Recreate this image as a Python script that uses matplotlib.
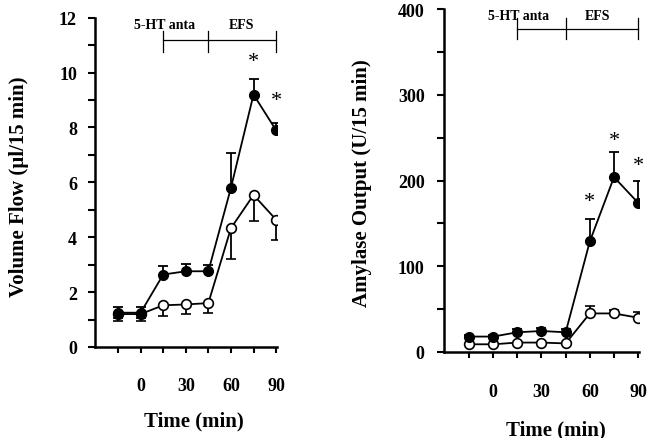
import numpy as np
import matplotlib
matplotlib.use("Agg")
import matplotlib.pyplot as plt

plt.rcParams['font.family'] = ['Liberation Serif', 'DejaVu Serif']
plt.rcParams['font.weight'] = 'bold'

# time points (min)
time = [-15, 0, 15, 30, 45, 60, 75, 90]
x_tick_labels = ['', '0', '', '30', '', '60', '', '90']

# volume flow (ul/15 min)
flow_filled = [1.25, 1.25, 2.64, 2.76, 2.76, 5.8, 9.2, 7.9]
flow_filled_err = [0.2, 0.2, 0.3, 0.28, 0.24, 1.28, 0.56, 0.25]
flow_open = [1.2, 1.2, 1.52, 1.55, 1.6, 4.33, 5.54, 4.64]
flow_open_err = [0.25, 0.25, 0.4, 0.36, 0.35, 1.13, 0.95, 0.75]
flow_stars = {75: 10.4, 90: 9.0}
flow_yticks = list(range(0, 13))
flow_ylabels = [str(v) if v % 2 == 0 else '' for v in flow_yticks]

# amylase output (U/15 min)
amy_filled = [18, 18, 23, 24.5, 23, 129, 204, 174]
amy_filled_err = [2, 2, 4, 4, 4, 26, 29, 25]
amy_open = [9, 9, 11, 11, 10, 45, 45, 40]
amy_open_err = [0, 0, 0, 0, 0, 9, 4, 7]
amy_stars = {60: 175, 75: 247, 90: 218}
amy_yticks = list(range(0, 401, 50))
amy_ylabels = [str(v) if v % 100 == 0 else '' for v in amy_yticks]


def style_axes(ax, xlim, ylim, yticks, ylabels, xpad, ypad):
	ax.spines['right'].set_visible(False)
	ax.spines['top'].set_visible(False)
	ax.spines['left'].set_linewidth(1.8)
	ax.spines['bottom'].set_linewidth(1.8)
	ax.set_xlim(*xlim)
	ax.set_ylim(*ylim)
	ax.set_xticks(time)
	ax.set_xticklabels(x_tick_labels)
	ax.set_yticks(yticks)
	ax.set_yticklabels(ylabels)
	ax.tick_params(axis='x', direction='out', length=4.5, width=1.5, pad=xpad, labelsize=13)
	ax.tick_params(axis='y', direction='out', length=5, width=1.5, pad=ypad, labelsize=13)
	ax.patch.set_visible(False)


def draw_series(ax, filled, filled_err, open_, open_err, open_up):
	lo = [0] * len(filled)
	if open_up:
		o_err = [lo, open_err]
	else:
		o_err = [open_err, lo]
	ax.errorbar(time, open_, yerr=o_err, color='black', lw=1.3, marker='o', ms=7,
				mfc='white', mec='black', mew=1.2, capsize=3.5, elinewidth=1.3, capthick=1.3, zorder=3)
	f_err = [[e if t <= 0 else 0 for t, e in zip(time, filled_err)], filled_err]
	ax.errorbar(time, filled, yerr=f_err, color='black', lw=1.3, marker='o', ms=7,
				mfc='black', mec='black', capsize=3.5, elinewidth=1.3, capthick=1.3, zorder=4)


def draw_bar(ax, y_line, y_lo, y_hi, y_text, x_text1, x_text2):
	ax.plot([15, 90], [y_line, y_line], color='black', lw=0.9, clip_on=False)
	for xv in (15, 45, 90):
		ax.plot([xv, xv], [y_lo, y_hi], color='black', lw=0.9, clip_on=False)
	ax.text(x_text1, y_text, '5-HT anta', ha='center', va='center', fontsize=10, clip_on=False)
	ax.text(x_text2, y_text, 'EFS', ha='center', va='center', fontsize=10, clip_on=False)


fig = plt.figure(figsize=(6.53, 4.39), dpi=100)

# left panel: volume flow
ax1 = fig.add_axes([0.1455, 0.2073, 0.278, 0.750])
style_axes(ax1, (-30.3, 90.3), (0, 12), flow_yticks, flow_ylabels, xpad=17, ypad=8)
draw_series(ax1, flow_filled, flow_filled_err, flow_open, flow_open_err, open_up=False)
draw_bar(ax1, 11.2, 10.75, 11.5, 11.75, 16, 67)
for xv, yv in flow_stars.items():
	ax1.text(xv, yv, '*', ha='center', va='center', fontsize=16, fontweight='normal')
fig.text(0.029, 0.574, 'Volume Flow (\u00b5l/15 min)', rotation=90, ha='center', va='center', fontsize=15)
fig.text(0.297, 0.039, 'Time (min)', ha='center', va='center', fontsize=15)

# right panel: amylase output
ax2 = fig.add_axes([0.680, 0.1959, 0.298, 0.781])
style_axes(ax2, (-30.5, 90.3), (0, 400), amy_yticks, amy_ylabels, xpad=18, ypad=9)
draw_series(ax2, amy_filled, amy_filled_err, amy_open, amy_open_err, open_up=True)
draw_bar(ax2, 377, 365, 390, 392, 16, 65)
for xv, yv in amy_stars.items():
	ax2.text(xv, yv, '*', ha='center', va='center', fontsize=16, fontweight='normal')
fig.text(0.555, 0.583, 'Amylase Output (U/15 min)', rotation=90, ha='center', va='center', fontsize=15)
fig.text(0.851, 0.02, 'Time (min)', ha='center', va='center', fontsize=15)

fig.savefig('out.png', dpi=100)
